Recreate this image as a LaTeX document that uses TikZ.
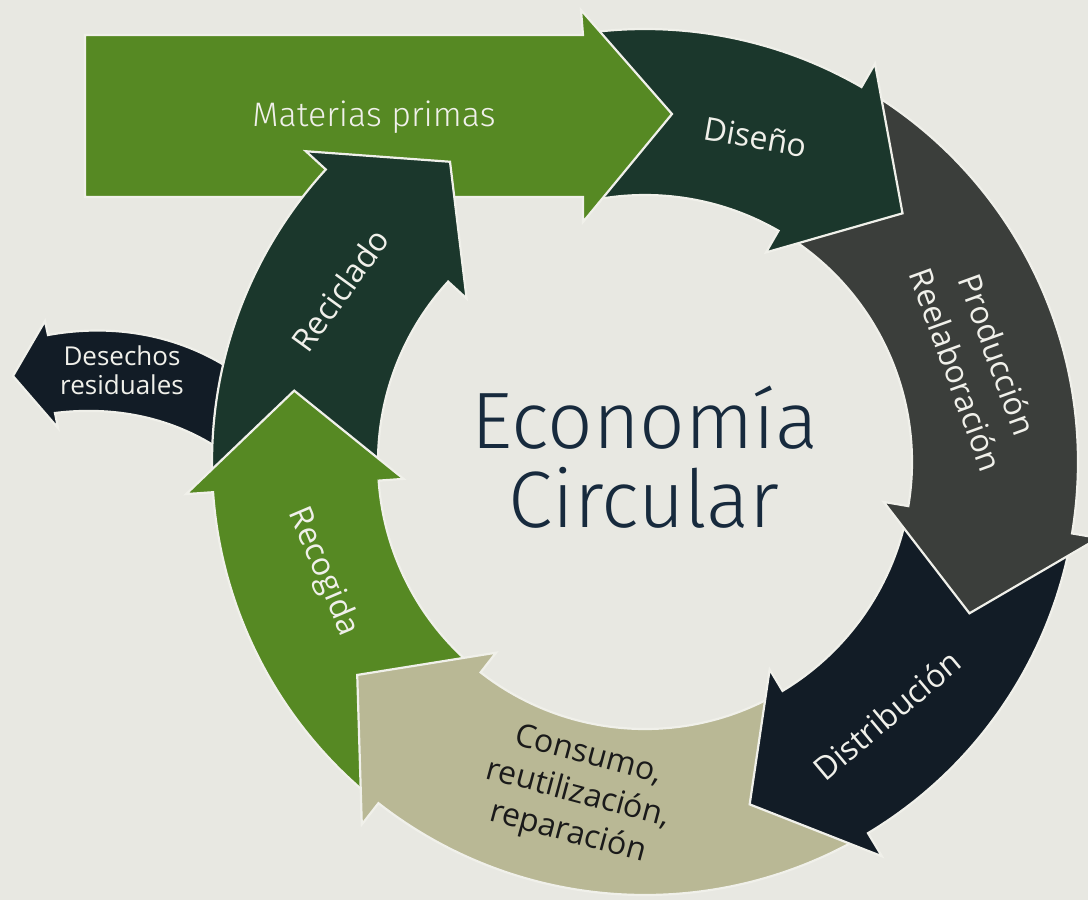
\documentclass[tikz,border=0pt]{standalone}
\usepackage{fontspec}
\setmainfont{Open Sans}
\newfontfamily\lightfont{Fira Sans Light}
\definecolor{bg}{RGB}{232,232,226}
\definecolor{leaf}{RGB}{86,137,35}
\definecolor{forest}{RGB}{27,55,44}
\definecolor{slate}{RGB}{59,62,59}
\definecolor{night}{RGB}{18,28,38}
\definecolor{khaki}{RGB}{185,184,149}
\definecolor{edgec}{RGB}{240,240,234}
\definecolor{titlec}{RGB}{23,42,61}
\definecolor{lblc}{RGB}{240,240,234}
\definecolor{darklbl}{RGB}{26,26,26}
\def\ro{433}\def\ri{267}\def\rbo{460}\def\rbi{242}\def\rt{358}
% #1 colour, #2 tail outer angle, #3 tail inner angle, #4 head base angle, #5 tip angle
\newcommand{\ringarrow}[5]{%
  \filldraw[fill=#1, arrowedge]
  (#2:\ro) arc[start angle=#2, end angle=#4, radius=\ro] -- (#4:\rbo) -- (#5:\rt)
  -- (#4:\rbi) -- (#4:\ri) arc[start angle=#4, end angle=#3, radius=\ri] -- cycle;}
\begin{document}
\begin{tikzpicture}[x=1pt,y=-1pt,
  arrowedge/.style={draw=edgec, line width=2.2pt, line join=miter},
  lbl/.style={text=lblc, font=\fontsize{32}{44}\selectfont, inner sep=0pt, align=center},
  title/.style={text=titlec, font=\lightfont\fontsize{80}{80}\selectfont, inner sep=0pt, anchor=base}]
\useasboundingbox (0,0) rectangle (1088,900);
\fill[bg] (0,0) rectangle (1088,900);
\begin{scope}
\clip (0,0) rectangle (1088,900);
% Desechos residuales
\filldraw[fill=night, arrowedge] (48,335) .. controls (120,322) and (185,338) .. (235,372)
  -- (228,455) .. controls (180,420) and (120,405) .. (55,413)
  -- (58,428) -- (13,376) -- (45,321) -- cycle;
\begin{scope}[shift={(645,462)}]
  \ringarrow{forest}{177.5}{177.5}{222.5}{237}   % Reciclado
  \ringarrow{leaf}{129.5}{129.5}{176}{191.5}     % Recogida
  \ringarrow{khaki}{60.5}{60.5}{128}{143.5}      % Consumo
  \ringarrow{night}{11}{11}{59}{73}              % Distribucion
  \ringarrow{slate}{-58.5}{-58.5}{9.5}{25}       % Produccion
  \ringarrow{forest}{-96.5}{-99.5}{-60}{-44}     % Diseno
\end{scope}
% Materias primas
\filldraw[fill=leaf, arrowedge] (85,35) -- (583,35) -- (581,10) -- (672,114) -- (583,222) -- (583,197) -- (85,197) -- cycle;
% Reciclado head over Materias primas
\begin{scope}
  \clip (0,0) rectangle (1088,205);
  \begin{scope}[shift={(645,462)}]
    \ringarrow{forest}{177.5}{177.5}{222.5}{237}
  \end{scope}
\end{scope}
\end{scope}
% labels
\node[text=lblc, font=\lightfont\fontsize{34}{34}\selectfont, anchor=base, inner sep=0pt] (materias) at (374,126) {Materias primas};
\node[lbl, rotate=-10] (diseno) at (756,137) {Diseño};
\node[lbl, rotate=-70] (produccion) at (977,362) {Producción\\Reelaboración};
\node[lbl, rotate=40] (distribucion) at (887,715) {Distribución};
\node[lbl, rotate=-15, text=darklbl, font=\fontsize{32}{40}\selectfont] (consumo) at (578,795) {Consumo,\\reutilización,\\reparación};
\node[lbl, rotate=-67] (recogida) at (323,572) {Recogida};
\node[lbl, rotate=54] (reciclado) at (340,290) {Reciclado};
\node[lbl, font=\fontsize{26}{29}\selectfont] (desechos) at (122,370) {Desechos\\residuales};
\node[title] (economia) at (645,448) {Economía};
\node[title] (circular) at (644,527) {Circular};
\end{tikzpicture}
\end{document}
